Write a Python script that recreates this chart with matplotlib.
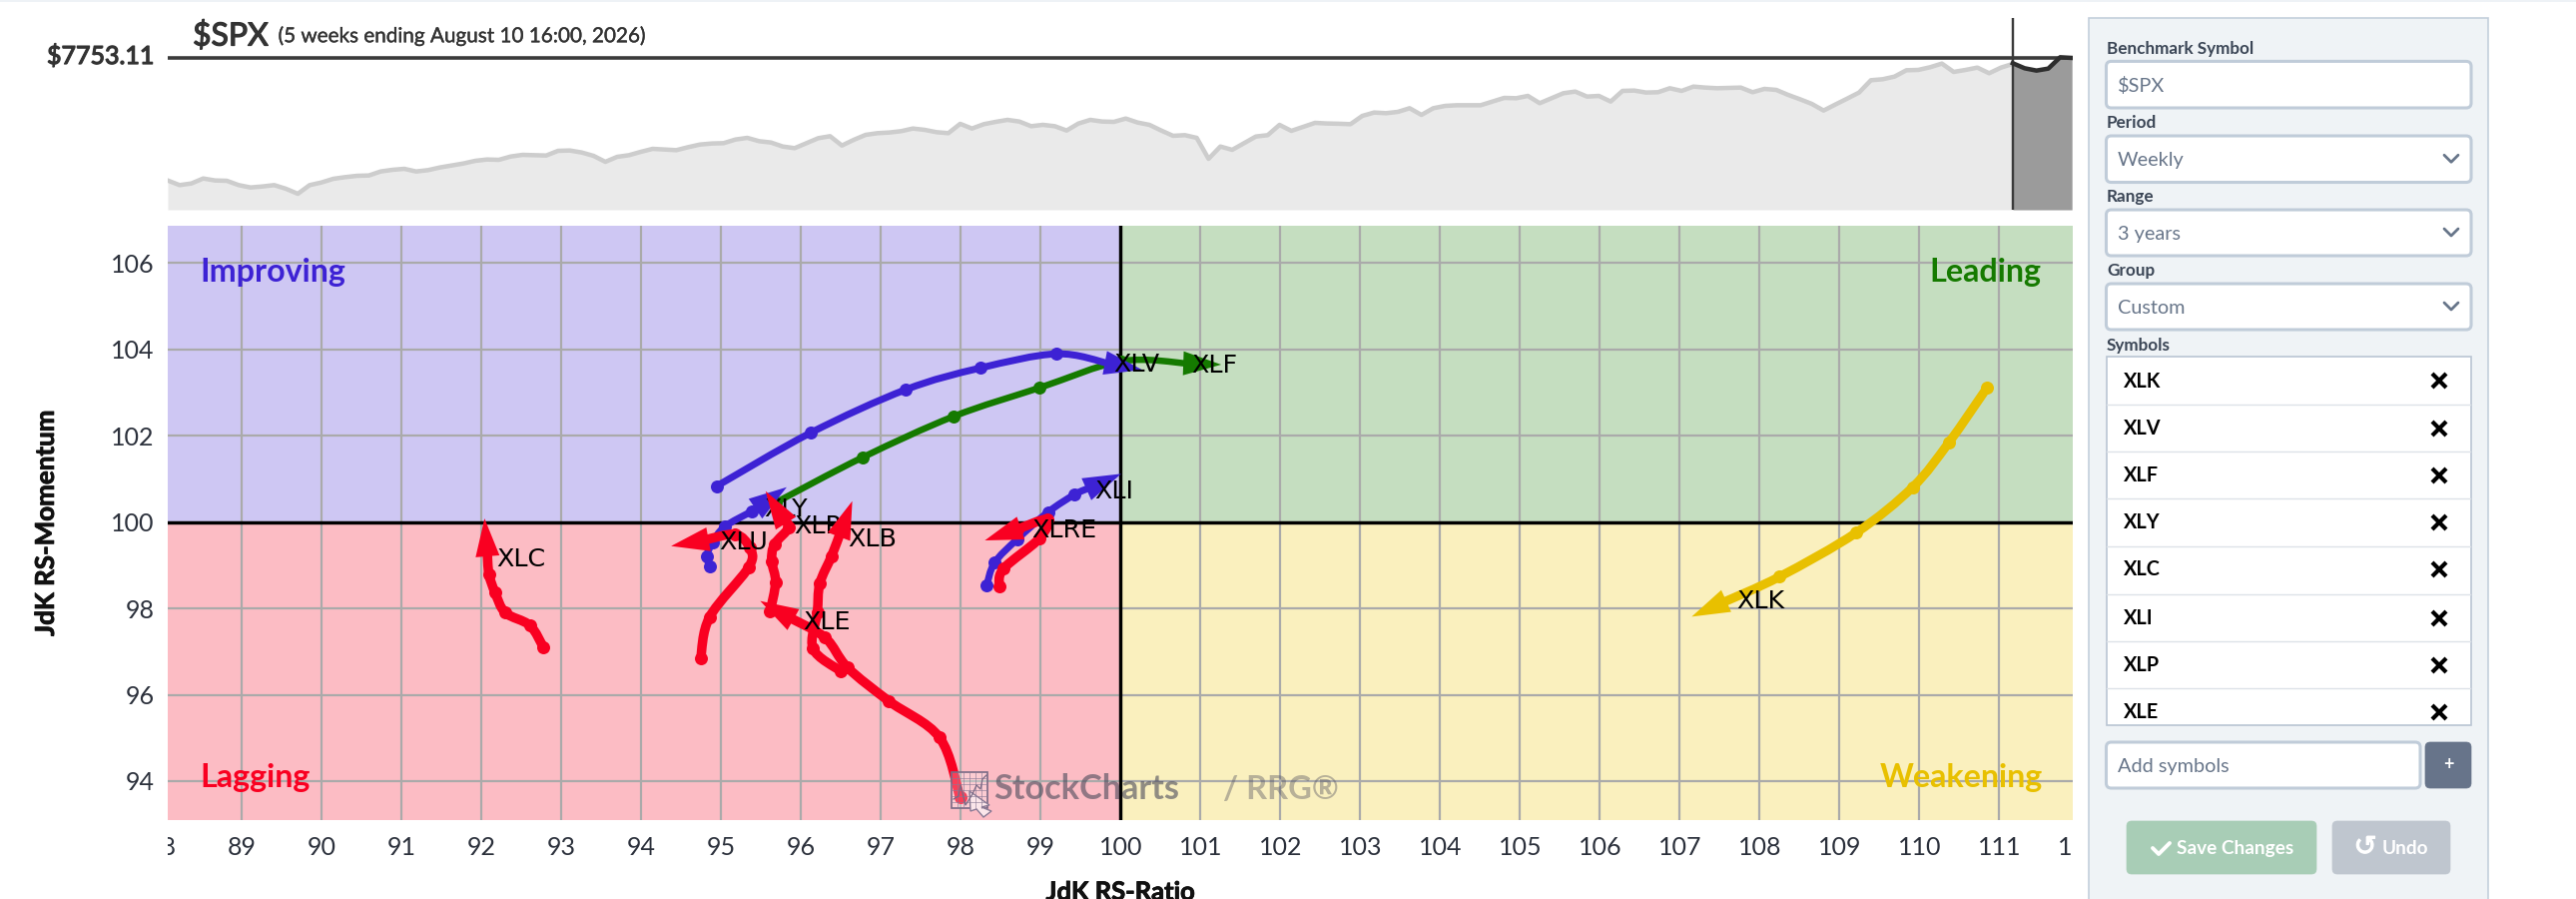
import matplotlib
matplotlib.use("Agg")
import matplotlib.pyplot as plt
import matplotlib.patheffects as pe
import numpy as np
from matplotlib.path import Path
from matplotlib.patches import PathPatch, Polygon, Rectangle, FancyBboxPatch
from matplotlib.transforms import IdentityTransform, Bbox, TransformedBbox, blended_transform_factory

plt.rcParams['font.family'] = ['Lato', 'DejaVu Sans']

# ---------- data ----------
spx_close = [4429,4303,4348,4483,4429,4420,4303,4239,4266,4303,4203,4068,4303,4375,4474,4519,4555,4564,4673,4718,
             4745,4673,4709,4781,4835,4890,4962,4998,4989,5079,5124,5115,5106,5233,5242,5188,5097,4935,5070,5115,
             5206,5287,5269,5251,5332,5404,5432,5441,5540,5585,5495,5459,5350,5305,5441,5576,5630,5377,5531,5666,
             5712,5730,5766,5838,5802,5739,5712,5965,5838,5956,6019,6073,6028,5901,5938,5901,5784,5974,6073,6028,
             6019,6109,6001,5938,5784,5640,5658,5585,5016,5350,5260,5441,5621,5658,5937,5775,5883,5992,5975,5968,
             5956,6181,6272,6254,6290,6389,6208,6389,6452,6470,6470,6470,6570,6669,6660,6723,6525,6660,6796,6841,
             6705,6723,6570,6859,6868,6814,6823,6931,6859,6976,6949,6931,6940,6949,6823,6913,6886,6751,6633,6507,
             6326,6490,6650,6814,7148,7175,7247,7419,7428,7500,7600,7374,7428,7491,7338,7491,7591]
tail_close = [7609,7473,7410,7464,7771,7753]
last_price = 7753.11

XLK = ([110.846,110.367,109.917,109.209,108.250,107.150],[103.110,101.837,100.811,99.754,98.735,97.809])
XLF = ([95.68,96.77,97.91,98.98,100.01,101.26],[100.45,101.50,102.45,103.11,103.73,103.65])
XLV = ([94.94,96.12,97.31,98.24,99.20,100.27],[100.83,102.07,103.07,103.57,103.90,103.53])
XLY = ([94.86,94.82,94.89,95.04,95.38,95.82],[98.97,99.21,99.52,99.89,100.25,100.81])
XLC = ([92.772,92.604,92.298,92.170,92.093,92.037],[97.107,97.608,97.901,98.364,98.789,100.085])
XLI = ([98.324,98.422,98.703,99.092,99.426,100.007],[98.534,99.059,99.599,100.232,100.641,101.119])
XLP = ([95.614,95.681,95.632,95.667,95.846,95.556],[97.940,98.612,99.098,99.483,99.869,100.718])
XLB = ([96.493,96.150,96.203,96.234,96.382,96.641],[96.551,97.068,97.902,98.573,99.213,100.487])
XLE = ([97.99,97.734,97.096,96.583,96.301,95.489],[93.62,95.008,95.857,96.628,97.323,98.172])
XLU = ([94.743,94.855,95.346,95.355,95.176,94.373],[96.845,97.801,98.959,99.406,99.715,99.445])
XLRE = ([98.480,98.534,98.980,99.083,98.703,98.301],[98.519,98.920,99.615,100.062,99.831,99.576])

BLUE, GREEN, RED, YELLOW = '#3d22d4', '#157a00', '#f90021', '#e8c000'
# name, series, colour, line px, label x, label y
series = [
    ('XLK', XLK, YELLOW, 9.0, 107.712, 98.16),
    ('XLF', XLF, GREEN, 6.5, 100.892, 103.63),
    ('XLV', XLV, BLUE, 7.0, 99.91, 103.646),
    ('XLY', XLY, BLUE, 7.0, 95.535, 100.29),
    ('XLC', XLC, RED, 9.5, 92.191, 99.14),
    ('XLI', XLI, BLUE, 7.0, 99.669, 100.72),
    ('XLP', XLP, RED, 9.5, 95.914, 99.90),
    ('XLB', XLB, RED, 9.5, 96.588, 99.595),
    ('XLE', XLE, RED, 9.5, 96.03, 97.67),
    ('XLU', XLU, RED, 9.5, 94.977, 99.54),
    ('XLRE', XLRE, RED, 9.5, 98.883, 99.81),
]
symbols_list = ['XLK', 'XLV', 'XLF', 'XLY', 'XLC', 'XLI', 'XLP', 'XLE']
x_ticks = list(range(89, 112))
y_ticks = [94, 96, 98, 100, 102, 104, 106]

# ---------- layout ----------
W, H = 2580, 900
def pt(px):
    return px * 0.72

fig = plt.figure(figsize=(W / 100, H / 100), dpi=100, facecolor='white')

L, R = 168, 2076
T, B = 226, 820.7
ax = fig.add_axes([L / W, (H - B) / H, (R - L) / W, (B - T) / H])
xmin, xmax, ymin, ymax = 88.071, 111.921, 93.102, 106.868
ax.set_xlim(xmin, xmax)
ax.set_ylim(ymin, ymax)
for s in ax.spines.values():
    s.set_visible(False)

quads = [(xmin, 100, 100, ymax, '#cec7f3'), (100, xmax, 100, ymax, '#c5dec0'),
         (xmin, 100, ymin, 100, '#fcbcc4'), (100, xmax, ymin, 100, '#faf0be')]
for x0, x1, y0, y1, c in quads:
    ax.add_patch(Rectangle((x0, y0), x1 - x0, y1 - y0, fc=c, ec='none', zorder=0))

ax.set_xticks(x_ticks)
ax.set_yticks(y_ticks)
ax.grid(True, color='#aaaaaa', lw=pt(2.2), zorder=1)
ax.set_axisbelow(True)
ax.tick_params(length=0, labelsize=18, labelcolor='#2b303b')
ax.tick_params(axis='x', pad=12)
ax.tick_params(axis='y', pad=9.5)
ax.axhline(100, color='black', lw=pt(3.4), zorder=2)
ax.axvline(100, color='black', lw=pt(3.4), zorder=2)

# clipped end tick labels
clip = TransformedBbox(Bbox([[L, 0], [R, H]]), IdentityTransform())
bt = blended_transform_factory(ax.transData, ax.transAxes)
for v in (88, 112):
    t = ax.text(v, -16 / (B - T), str(v), transform=bt, ha='center', va='top', fontsize=18,
                color='#2b303b', clip_on=True)
    t.set_clip_box(clip)

bold_fx = [pe.withStroke(linewidth=0.6, foreground='#111111')]
ax.set_xlabel('JdK RS-Ratio', fontsize=18.4, fontweight='bold', color='#111111', path_effects=bold_fx)
ax.xaxis.set_label_coords(0.5, -0.1215)
ax.xaxis.label.set_va('center')
ax.set_ylabel('JdK RS-Momentum', fontsize=18.7, fontweight='bold', color='#111111', path_effects=bold_fx)
ax.yaxis.set_label_coords(-0.064, 0.5)
ax.yaxis.label.set_va('center')

ax.text(88.47, 105.80, 'Improving', color=BLUE, fontsize=23.2, fontweight='bold', va='center', zorder=3)
ax.text(111.52, 105.80, 'Leading', color=GREEN, fontsize=23.2, fontweight='bold', va='center', ha='right', zorder=3)
ax.text(88.47, 94.09, 'Lagging', color=RED, fontsize=23.2, fontweight='bold', va='center', zorder=3)
ax.text(111.54, 94.09, 'Weakening', color=YELLOW, fontsize=23.2, fontweight='bold', va='center', ha='right', zorder=3)

HEAD_LEN, HEAD_W = 38.0, 24.0

def draw_series(name, data, color, lw_px, lx, ly, z):
    xs, ys = np.array(data[0], float), np.array(data[1], float)
    P = ax.transData.transform(np.column_stack([xs, ys]))
    tip, prev = P[-1], P[-2]
    seg = np.hypot(*(tip - prev))
    u = (tip - prev) / seg
    end = tip - u * min(HEAD_LEN * 0.9, seg)
    # smooth body through the dots (Catmull-Rom as Bezier), in pixel space
    pts = list(P[:-1]) + [end]
    verts, codes = [pts[0]], [Path.MOVETO]
    n = len(pts)
    for i in range(n - 1):
        p0 = pts[max(i - 1, 0)]; p1 = pts[i]; p2 = pts[i + 1]; p3 = pts[min(i + 2, n - 1)]
        verts += [p1 + (p2 - p0) / 6, p2 - (p3 - p1) / 6, p2]
        codes += [Path.CURVE4] * 3
    ax.add_patch(PathPatch(Path(verts, codes), fc='none', ec=color, lw=pt(lw_px), capstyle='round',
                           joinstyle='round', transform=IdentityTransform(), zorder=z))
    ax.plot(xs[:-1], ys[:-1], 'o', color=color, ms=pt(13), mew=0, zorder=z)
    n_vec = np.array([-u[1], u[0]])
    base = tip - u * HEAD_LEN
    ax.add_patch(Polygon([tip, base + n_vec * HEAD_W / 2, base - n_vec * HEAD_W / 2], closed=True, fc=color,
                         ec='none', transform=IdentityTransform(), zorder=z))
    ax.text(lx, ly, name, fontsize=18.3, family='DejaVu Sans', color='black', va='center', ha='left', zorder=z)

for k, (name, data, color, lw_px, lx, ly) in enumerate(series):
    draw_series(name, data, color, lw_px, lx, ly, 5 + k * 0.1)

# ---------- top strip panel ----------
T2, B2 = 18, 210
top = fig.add_axes([L / W, (H - B2) / H, (R - L) / W, (B2 - T2) / H])
top.set_xlim(0, 161.07)
top.set_ylim(3634, 8837)
top.axis('off')
wk = np.arange(len(spx_close))
wk2 = np.arange(len(spx_close) - 1, len(spx_close) - 1 + len(tail_close))
top.fill_between(wk, spx_close, 3634, color='#eaeaea', lw=0, zorder=1)
top.plot(wk, spx_close, color='#cdcdcd', lw=pt(4.5), solid_joinstyle='round', zorder=2)
top.fill_between(wk2, tail_close, 3634, color='#9b9b9b', lw=0, zorder=1)
top.axhline(last_price, color='#3a3a3a', lw=pt(3.6), zorder=3)
top.axvline(wk2[0], color='#3a3a3a', lw=pt(2.4), zorder=4)
top.axvline(161.05, color='#cccccc', lw=pt(1), zorder=1)
top.plot(wk2, tail_close, color='#2e2e2e', lw=pt(4.5), solid_joinstyle='round', zorder=5, clip_on=True)

# ---------- overlay in pixel units: header, watermark, side panel ----------
ui = fig.add_axes([0, 0, 1, 1], zorder=10)
ui.set_xlim(0, W)
ui.set_ylim(H, 0)
ui.axis('off')
ui.patch.set_alpha(0)

ui.add_patch(Rectangle((0, 0), W, 2, fc='#eef2f6', ec='none'))
head_fx = [pe.withStroke(linewidth=0.9, foreground='#333333')]
ui.text(193, 36, '$SPX', fontsize=23, color='#333333', va='center', ha='left', path_effects=head_fx)
ui.text(278.6, 36, '(5 weeks ending August 10 16:00, 2026)', fontsize=14.9, color='#333333', va='center', ha='left',
        path_effects=[pe.withStroke(linewidth=0.25, foreground='#333333')])
ui.text(154.5, 56, '$7753.11', fontsize=18, color='#333333', va='center', ha='right', path_effects=head_fx)

# watermark
wm = '#4a4a5a'
ui.text(995, 790, 'StockCharts', fontsize=24.6, fontweight='bold', color=wm, alpha=0.6, va='center', ha='left')
ui.text(1225, 790, '/ RRG®', fontsize=23.5, fontweight='bold', color=wm, alpha=0.38, va='center', ha='left')
ui.add_patch(Rectangle((953, 773), 36, 36, fc='#ffffff', alpha=0.25, ec='none'))
ui.add_patch(Rectangle((953, 773), 36, 36, fc='none', ec='#7a6a85', lw=1.2))
for g in range(1, 6):
    ui.plot([953 + 6 * g] * 2, [773, 809], color='#8a7a95', lw=0.6, alpha=0.7)
    ui.plot([953, 989], [773 + 6 * g] * 2, color='#8a7a95', lw=0.6, alpha=0.7)
ui.plot([955, 960, 962, 967, 974, 978, 982, 984, 988], [800, 797, 786, 806, 795, 786, 790, 780, 776],
        color='#7a6a85', lw=0.9)
ui.add_patch(Polygon([(971, 792), (991, 806), (983, 808), (993, 812), (985, 818), (978, 810), (972, 812)],
                     closed=True, fc='#fbe6ea', ec='#8a7a95', lw=1))

# side panel
ui.add_patch(Rectangle((2092, 18), 400, 890, fc='#eff3f6', ec='#c3cfdc', lw=1.2, clip_on=True))

LAB = '#3b4656'
GR = '#68768a'
def box(x0, y0, x1, y1, fc='white', ec='#c0ccd9', lw=2.2):
    ui.add_patch(FancyBboxPatch((x0 + 3, y0 + 3), x1 - x0 - 6, y1 - y0 - 6, boxstyle='round,pad=3,rounding_size=5',
                                fc=fc, ec=ec, lw=lw, mutation_aspect=1))

rows = [('Benchmark Symbol', '$SPX', 47.6, 61.4, 108, False),
        ('Period', 'Weekly', 121.7, 136, 182.5, True),
        ('Range', '3 years', 196, 210, 256, True),
        ('Group', 'Custom', 270, 284, 330, True)]
for lab, val, ly, y0, y1, chev in rows:
    ui.text(2110, ly + 1.2, lab, fontsize=12.3, fontweight='bold', color=LAB, va='center', ha='left')
    box(2109.5, y0, 2475, y1)
    ui.text(2120.7, (y0 + y1) / 2 + 1.2, val, fontsize=14.3, color=GR, va='center', ha='left')
    if chev:
        c = (y0 + y1) / 2 - 0.5
        ui.plot([2448, 2455, 2462], [c - 3.5, c + 3.5, c - 3.5], color=GR, lw=2, solid_capstyle='round',
                solid_joinstyle='round')

ui.text(2110, 345.6, 'Symbols', fontsize=12.3, fontweight='bold', color=LAB, va='center', ha='left')
ui.add_patch(Rectangle((2109.5, 357), 365.5, 369, fc='white', ec='#b9c5d3', lw=1.2, zorder=2))
row_y = [380.6, 427.7, 475.3, 522.4, 569.5, 617.7, 664.8, 712.4]
sep_y = [404.7, 451.8, 499.4, 546.5, 594.7, 641.8, 689]
for y in sep_y:
    ui.plot([2110, 2474], [y, y], color='#dde2e8', lw=1, zorder=3)
for nm, y in zip(symbols_list, row_y):
    ui.text(2126.7, y + 1, nm, fontsize=14.3, fontweight='bold', color='black', va='center', ha='left', zorder=4)
    ui.plot([2443], [y + 0.8], marker='x', ms=10, mew=3, color='black', zorder=4)

box(2109.5, 743, 2424, 789)
ui.text(2120.7, 767, 'Add symbols', fontsize=14.3, color=GR, va='center', ha='left')
box(2429, 743, 2475, 789, fc='#67748a', ec='#67748a', lw=0.5)
ui.text(2452, 765.5, '+', fontsize=13, fontweight='bold', color='white', va='center', ha='center')

box(2130, 822, 2320, 875, fc='#a8cdb6', ec='#a8cdb6', lw=0.5)
ui.plot([2156, 2162, 2173], [849, 855, 844], color='white', lw=2.8, solid_capstyle='round', solid_joinstyle='round')
ui.text(2180, 849.5, 'Save Changes', fontsize=13.7, fontweight='bold', color='white', va='center', ha='left')
box(2336, 822, 2454, 875, fc='#bfc6cf', ec='#bfc6cf', lw=0.5)
ui.text(2369, 848, '\u21ba', fontsize=20, family='DejaVu Sans', color='white', va='center', ha='center',
        path_effects=[pe.withStroke(linewidth=0.8, foreground='white')])
ui.text(2386, 849.5, 'Undo', fontsize=13.7, fontweight='bold', color='white', va='center', ha='left')

fig.savefig('out.png', dpi=100)
